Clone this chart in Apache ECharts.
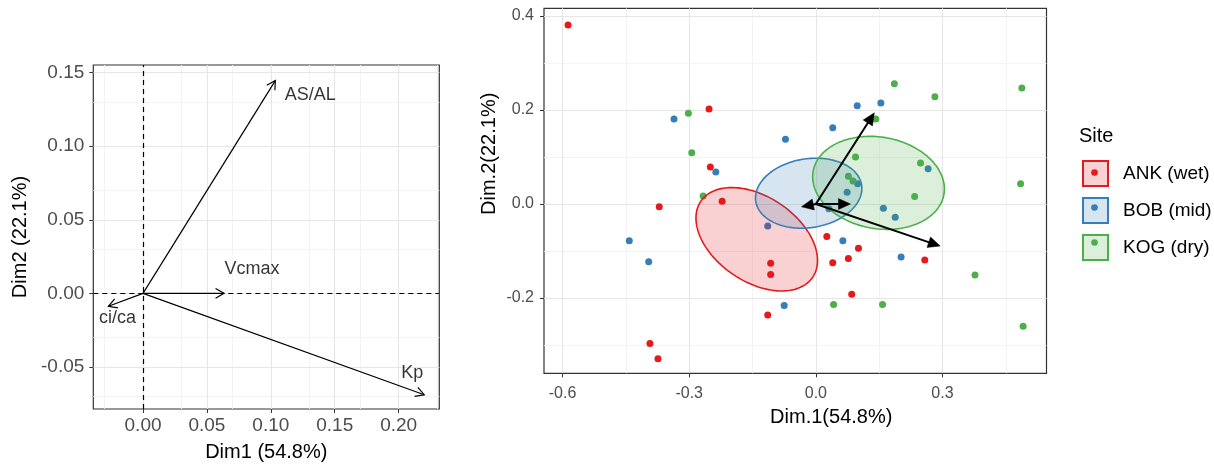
<!DOCTYPE html>
<html>
<head>
<meta charset="utf-8">
<script src="https://cdn.jsdelivr.net/npm/echarts@6/dist/echarts.min.js"></script>
<style>
html,body{margin:0;padding:0;background:#fff;}
#chart{width:1214px;height:467px;}
</style>
</head>
<body>
<div id="chart"></div>
<script>
// ---------- data ----------
// variable loadings (left panel: correlation-circle style arrows)
const varNames = ['AS/AL', 'Vcmax', 'ci/ca', 'Kp'];
const varDim1 = [0.1035, 0.0634, -0.0271, 0.220];
const varDim2 = [0.1446, 0.0, -0.0088, -0.0689];
// arrows in the biplot (right panel)
const biDim1 = [0.1385, 0.082, -0.034, 0.2945];
const biDim2 = [0.194, 0.0, -0.006, -0.0894];

// sites
const sites = ['ANK (wet)', 'BOB (mid)', 'KOG (dry)'];
const ankDim1 = [-0.587, -0.253, -0.250, -0.222, -0.371, 0.026, 0.101, 0.077, 0.040, 0.258, -0.107, -0.107, 0.085, -0.114, -0.393, -0.374];
const ankDim2 = [0.381, 0.202, 0.079, 0.006, -0.006, -0.069, -0.094, -0.116, -0.125, -0.119, -0.126, -0.150, -0.192, -0.236, -0.297, -0.329];
const bobDim1 = [-0.336, -0.237, -0.072, 0.040, 0.098, 0.154, 0.266, 0.099, 0.074, 0.160, 0.188, -0.114, -0.442, 0.064, 0.202, -0.396, -0.075, 0.031];
const bobDim2 = [0.181, 0.068, 0.138, 0.162, 0.209, 0.215, 0.075, 0.043, 0.025, -0.009, -0.028, -0.047, -0.078, -0.078, -0.113, -0.123, -0.216, -0.010];
const kogDim1 = [-0.302, -0.294, -0.267, 0.142, 0.186, 0.282, 0.488, 0.094, 0.248, 0.077, 0.088, 0.485, 0.234, 0.377, 0.042, 0.158, 0.491];
const kogDim2 = [0.193, 0.109, 0.017, 0.181, 0.256, 0.228, 0.247, 0.100, 0.087, 0.059, 0.049, 0.043, 0.016, -0.151, -0.214, -0.214, -0.260];

// confidence ellipses: centre, half-extent in x and y, correlation
const ellCx = [-0.140, -0.017, 0.1485];
const ellCy = [-0.075, 0.023, 0.045];
const ellHx = [0.144, 0.126, 0.156];
const ellHy = [0.110, 0.0745, 0.099];
const ellRho = [-0.41, 0.135, -0.13];

// ticks
const leftXTicks = [0.00, 0.05, 0.10, 0.15, 0.20];
const leftXMinor = [-0.025, 0.025, 0.075, 0.125, 0.175, 0.225];
const leftYTicks = [-0.05, 0.00, 0.05, 0.10, 0.15];
const leftYMinor = [-0.075, -0.025, 0.025, 0.075, 0.125];
const rightXTicks = [-0.6, -0.3, 0.0, 0.3];
const rightXMinor = [-0.45, -0.15, 0.15, 0.45];
const rightYTicks = [-0.2, 0.0, 0.2, 0.4];
const rightYMinor = [-0.3, -0.1, 0.1, 0.3];

// ---------- styling ----------
const siteColors = ['#E41A1C', '#377EB8', '#4DAF4A'];
const siteFills = ['rgba(228,26,28,0.2)', 'rgba(55,126,184,0.2)', 'rgba(77,175,74,0.2)'];
const FONT = '"Liberation Sans", Arial, sans-serif';
const labelOffsets = {'AS/AL': [35, 14], 'Vcmax': [28, -24], 'ci/ca': [9, 12], 'Kp': [-12, -22]};

function zip(a, b) { return a.map((v, i) => [v, b[i]]); }

function gridLines(xi, majorX, minorX, majorY, minorY) {
  const maj = {color: '#e6e6e6', width: 1.1, type: 'solid'};
  const min = {color: '#f3f3f3', width: 0.9, type: 'solid'};
  const d = [];
  minorX.forEach(v => d.push({xAxis: v, lineStyle: min}));
  minorY.forEach(v => d.push({yAxis: v, lineStyle: min}));
  majorX.forEach(v => d.push({xAxis: v, lineStyle: maj}));
  majorY.forEach(v => d.push({yAxis: v, lineStyle: maj}));
  return {
    type: 'line', xAxisIndex: xi, yAxisIndex: xi, data: [], silent: true, z: 0,
    markLine: {silent: true, z: 0, symbol: ['none', 'none'], label: {show: false}, animation: false,
      emphasis: {disabled: true}, data: d}
  };
}

function arrowRender(filled, headLen, headHalf, lw) {
  return function (params, api) {
    const o = api.coord([0, 0]);
    const t = api.coord([api.value(0), api.value(1)]);
    const dx = t[0] - o[0], dy = t[1] - o[1];
    const L = Math.hypot(dx, dy) || 1;
    const ux = dx / L, uy = dy / L;
    const bx = t[0] - ux * headLen, by = t[1] - uy * headLen;
    const p1 = [bx - uy * headHalf, by + ux * headHalf];
    const p2 = [bx + uy * headHalf, by - ux * headHalf];
    const ch = [];
    if (filled) {
      ch.push({type: 'line', shape: {x1: o[0], y1: o[1], x2: bx + ux * 2, y2: by + uy * 2}, style: {stroke: '#000', lineWidth: lw, fill: null}});
      ch.push({type: 'polygon', shape: {points: [t, p1, p2]}, style: {fill: '#000', stroke: '#000', lineWidth: 0.5}});
    } else {
      ch.push({type: 'line', shape: {x1: o[0], y1: o[1], x2: t[0], y2: t[1]}, style: {stroke: '#000', lineWidth: lw, fill: null}});
      ch.push({type: 'polyline', shape: {points: [p1, t, p2]}, style: {stroke: '#000', lineWidth: lw, fill: null}});
    }
    return {type: 'group', children: ch};
  };
}

function ellipseRender(fill, stroke) {
  return function (params, api) {
    const cx = api.value(0), cy = api.value(1), hx = api.value(2), hy = api.value(3), r = api.value(4);
    const s = Math.sqrt(1 - r * r);
    const pts = [];
    const N = 160;
    for (let i = 0; i < N; i++) {
      const t = i / N * 2 * Math.PI;
      pts.push(api.coord([cx + hx * Math.cos(t), cy + hy * (r * Math.cos(t) + s * Math.sin(t))]));
    }
    return {type: 'polygon', shape: {points: pts}, style: {fill: fill, stroke: stroke, lineWidth: 1.6}};
  };
}

const siteDim1 = [ankDim1, bobDim1, kogDim1];
const siteDim2 = [ankDim2, bobDim2, kogDim2];

const series = [];
series.push(gridLines(0, leftXTicks, leftXMinor, leftYTicks, leftYMinor));
series.push(gridLines(1, rightXTicks, rightXMinor, rightYTicks, rightYMinor));
// dashed zero lines (left)
series.push({
  type: 'line', xAxisIndex: 0, yAxisIndex: 0, data: [], silent: true, z: 1,
  markLine: {silent: true, z: 1, symbol: ['none', 'none'], label: {show: false}, animation: false,
    lineStyle: {color: '#000', width: 1.2, type: [5, 4]},
    data: [{xAxis: 0}, {yAxis: 0}]}
});
// left arrows
series.push({
  type: 'custom', xAxisIndex: 0, yAxisIndex: 0, z: 12, silent: true,
  renderItem: arrowRender(false, 8.5, 4.8, 1.2),
  data: zip(varDim1, varDim2)
});
// left labels
series.push({
  type: 'scatter', xAxisIndex: 0, yAxisIndex: 0, z: 13, silent: true,
  symbolSize: 1, itemStyle: {color: 'rgba(0,0,0,0)'},
  label: {show: true, position: 'inside', formatter: p => p.name, fontSize: 18, color: '#000', fontFamily: FONT},
  data: varNames.map((n, i) => ({name: n, value: [varDim1[i], varDim2[i]], label: {offset: labelOffsets[n]}}))
});
// right points
sites.forEach((s, k) => {
  series.push({
    type: 'scatter', name: s, xAxisIndex: 1, yAxisIndex: 1, z: 10,
    symbol: 'circle', symbolSize: 7,
    itemStyle: {color: siteColors[k], opacity: 1},
    data: zip(siteDim1[k], siteDim2[k])
  });
});
// right ellipses
sites.forEach((s, k) => {
  series.push({
    type: 'custom', name: s, xAxisIndex: 1, yAxisIndex: 1, z: 11, silent: true,
    renderItem: ellipseRender(siteFills[k], siteColors[k]),
    dimensions: ['cx', 'cy', 'hx', 'hy', 'rho'],
    encode: {x: 0, y: 1},
    data: [[ellCx[k], ellCy[k], ellHx[k], ellHy[k], ellRho[k]]]
  });
});
// right arrows
series.push({
  type: 'custom', xAxisIndex: 1, yAxisIndex: 1, z: 14, silent: true,
  renderItem: arrowRender(true, 12, 5.5, 2),
  data: zip(biDim1, biDim2)
});

const tickLabel = (size) => ({fontSize: size, color: '#4d4d4d', fontFamily: FONT});

const option = {
  animation: false,
  textStyle: {fontFamily: FONT},
  title: {text: 'Site', left: 1079, top: 126, padding: 0,
    textStyle: {fontSize: 20, fontWeight: 'normal', color: '#000', fontFamily: FONT}},
  legend: {
    orient: 'vertical', left: 1082, top: 160, padding: 0,
    itemWidth: 25, itemHeight: 25, itemGap: 10, icon: 'rect',
    selectedMode: false,
    formatter: '{n|{name}}',
    textStyle: {fontSize: 19, color: '#000', fontFamily: FONT,
      rich: {n: {fontSize: 19, color: '#000', fontFamily: FONT, padding: [0, 0, 0, 10]}}},
    data: sites.map((s, k) => ({name: s, icon: 'rect',
      itemStyle: {color: siteFills[k], borderColor: siteColors[k], borderWidth: 2}}))
  },
  graphic: sites.map((s, k) => ({
    type: 'circle', left: 1082 + 12.5 - 3.3, top: 160 + 12.5 + 35 * k - 3.3,
    shape: {r: 3.3}, style: {fill: siteColors[k]}, z: 100, silent: true
  })),
  grid: [
    {left: 93.3, top: 65, width: 346, height: 346, show: true, borderColor: '#333', borderWidth: 1.2, backgroundColor: '#fff'},
    {left: 544, top: 8.3, width: 502.5, height: 365, show: true, borderColor: '#333', borderWidth: 1.2, backgroundColor: '#fff'}
  ],
  xAxis: [
    {gridIndex: 0, type: 'value', min: -0.0389, max: 0.2318,
      axisLine: {show: false, onZero: false}, splitLine: {show: false},
      axisTick: {show: true, length: 4, lineStyle: {color: '#333'}, customValues: leftXTicks},
      axisLabel: Object.assign({customValues: leftXTicks, formatter: v => Number(v).toFixed(2), margin: 7}, tickLabel(19)),
      name: 'Dim1 (54.8%)', nameLocation: 'middle', nameGap: 33,
      nameTextStyle: {fontSize: 20, color: '#000', fontFamily: FONT}},
    {gridIndex: 1, type: 'value', min: -0.644, max: 0.5464,
      axisLine: {show: false, onZero: false}, splitLine: {show: false},
      axisTick: {show: true, length: 4, lineStyle: {color: '#333'}, customValues: rightXTicks},
      axisLabel: Object.assign({customValues: rightXTicks, formatter: v => Number(v).toFixed(1), margin: 12}, tickLabel(16)),
      name: 'Dim.1(54.8%)', nameLocation: 'middle', nameGap: 34,
      nameTextStyle: {fontSize: 20, color: '#000', fontFamily: FONT, padding: [0, 0, 0, 72]}}
  ],
  yAxis: [
    {gridIndex: 0, type: 'value', min: -0.0786, max: 0.1552,
      axisLine: {show: false, onZero: false}, splitLine: {show: false},
      axisTick: {show: true, length: 4, lineStyle: {color: '#333'}, customValues: leftYTicks},
      axisLabel: Object.assign({customValues: leftYTicks, formatter: v => Number(v).toFixed(2), margin: 9}, tickLabel(19)),
      name: 'Dim2 (22.1%)', nameLocation: 'middle', nameGap: 63,
      nameTextStyle: {fontSize: 20, color: '#000', fontFamily: FONT}},
    {gridIndex: 1, type: 'value', min: -0.3602, max: 0.4164,
      axisLine: {show: false, onZero: false}, splitLine: {show: false},
      axisTick: {show: true, length: 4, lineStyle: {color: '#333'}, customValues: rightYTicks},
      axisLabel: Object.assign({customValues: rightYTicks, formatter: v => Number(v).toFixed(1), margin: 10}, tickLabel(16)),
      name: 'Dim.2(22.1%)', nameLocation: 'middle', nameGap: 45,
      nameTextStyle: {fontSize: 20, color: '#000', fontFamily: FONT, padding: [0, 0, 0, 74]}}
  ],
  series: series
};

const chart = echarts.init(document.getElementById('chart'), null, {renderer: 'canvas'});
chart.setOption(option);
</script>
</body>
</html>
